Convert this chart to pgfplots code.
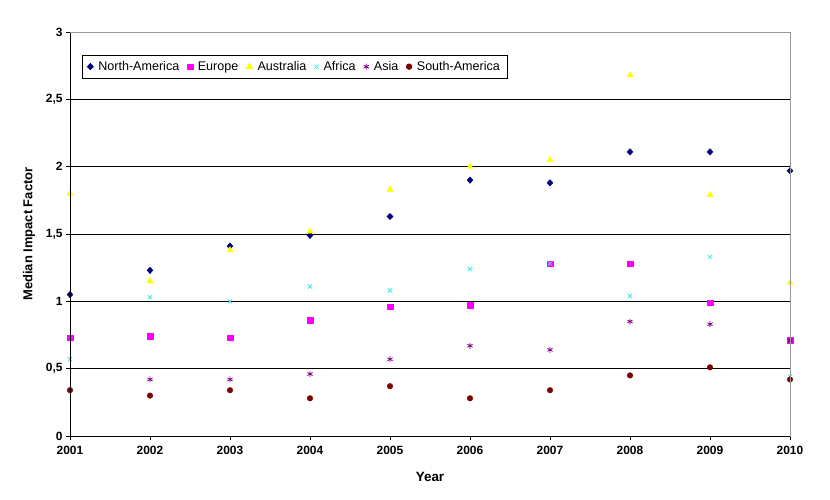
\documentclass[border=0pt]{standalone}
\usepackage{pgfplots}
\pgfplotsset{compat=1.18}
\usepackage{fontspec}
\setmainfont{Liberation Sans}
\definecolor{cNA}{RGB}{0,0,128}
\definecolor{cEU}{RGB}{255,0,255}
\definecolor{cAU}{RGB}{255,255,0}
\definecolor{cAF}{RGB}{60,235,235}
\definecolor{cAS}{RGB}{128,0,128}
\definecolor{cSA}{RGB}{128,0,0}
\begin{document}
\begin{tikzpicture}
\begin{axis}[
  scale only axis,
  width=720bp, height=404bp,
  xmin=2001, xmax=2010, ymin=0, ymax=3,
  xtick={2001,...,2010},
  ytick={0,0.5,...,3},
  clip=false,
  axis line style={gray!80},
  tick align=outside,
  xtick pos=bottom, ytick pos=left,
  major tick length=4bp,
  tick style={black, line width=0.6pt},
  ymajorgrids,
  major grid style={black, line width=0.7pt},
  /pgf/number format/assume math mode=true,
  /pgf/number format/use comma,
  /pgf/number format/1000 sep={},
  ticklabel style={font=\fontsize{12}{14}\selectfont\bfseries},
  xticklabel style={yshift=-3bp},
  xlabel={Year},
  ylabel={Median Impact Factor},
  xlabel style={font=\fontsize{13.5}{15}\selectfont\bfseries, yshift=-10bp},
  ylabel style={font=\fontsize{13}{15}\selectfont\bfseries, yshift=4bp},
  legend columns=6,
  legend style={at={(0.0167,0.943)}, anchor=north west, draw=black, line width=0.7pt,
    font=\fontsize{12.6}{14}\selectfont, inner xsep=5bp, inner ysep=4bp, row sep=0pt,
    /tikz/every odd column/.append style={column sep=3bp},
    /tikz/every even column/.append style={column sep=6bp}},
  legend cell align=left,
  after end axis/.code={
    \draw[black, line width=0.8pt] (rel axis cs:0,1) -- (rel axis cs:0,0) -- (rel axis cs:1,0);
    \draw[gray!80, line width=0.8pt] (rel axis cs:0,1) -- (rel axis cs:1,1) -- (rel axis cs:1,0);
  },
]
\addplot[only marks, mark=diamond*, mark size=3.2bp, color=cNA, mark options={xscale=1.25}] coordinates {
(2001,1.05) (2002,1.23) (2003,1.41) (2004,1.49) (2005,1.63) (2006,1.90) (2007,1.88) (2008,2.11) (2009,2.11) (2010,1.97)};
\addlegendentry{North-America}
\addplot[only marks, mark=square*, mark size=2.8bp, color=cEU] coordinates {
(2001,0.73) (2002,0.74) (2003,0.73) (2004,0.86) (2005,0.96) (2006,0.97) (2007,1.28) (2008,1.28) (2009,0.99) (2010,0.71)};
\addlegendentry{Europe}
\addplot[only marks, mark=triangle*, mark size=3.6bp, color=cAU] coordinates {
(2001,1.80) (2002,1.15) (2003,1.38) (2004,1.52) (2005,1.83) (2006,2.00) (2007,2.05) (2008,2.68) (2009,1.79) (2010,1.14)};
\addlegendentry{Australia}
\addplot[only marks, mark=x, mark size=3bp, color=cAF, mark options={line width=0.8pt}] coordinates {
(2001,0.57) (2002,1.03) (2003,1.00) (2004,1.11) (2005,1.08) (2006,1.24) (2007,1.28) (2008,1.04) (2009,1.33) (2010,0.44)};
\addlegendentry{Africa}
\addplot[only marks, mark=asterisk, mark size=3bp, color=cAS, mark options={line width=0.8pt}] coordinates {
(2002,0.42) (2003,0.42) (2004,0.46) (2005,0.57) (2006,0.67) (2007,0.64) (2008,0.85) (2009,0.83) (2010,0.71)};
\addlegendentry{Asia}
\addplot[only marks, mark=*, mark size=2.8bp, color=cSA] coordinates {
(2001,0.34) (2002,0.30) (2003,0.34) (2004,0.28) (2005,0.37) (2006,0.28) (2007,0.34) (2008,0.45) (2009,0.51) (2010,0.42)};
\addlegendentry{South-America}
\end{axis}
\path (-70bp,-64bp) rectangle (760bp,436bp);
\end{tikzpicture}
\end{document}
